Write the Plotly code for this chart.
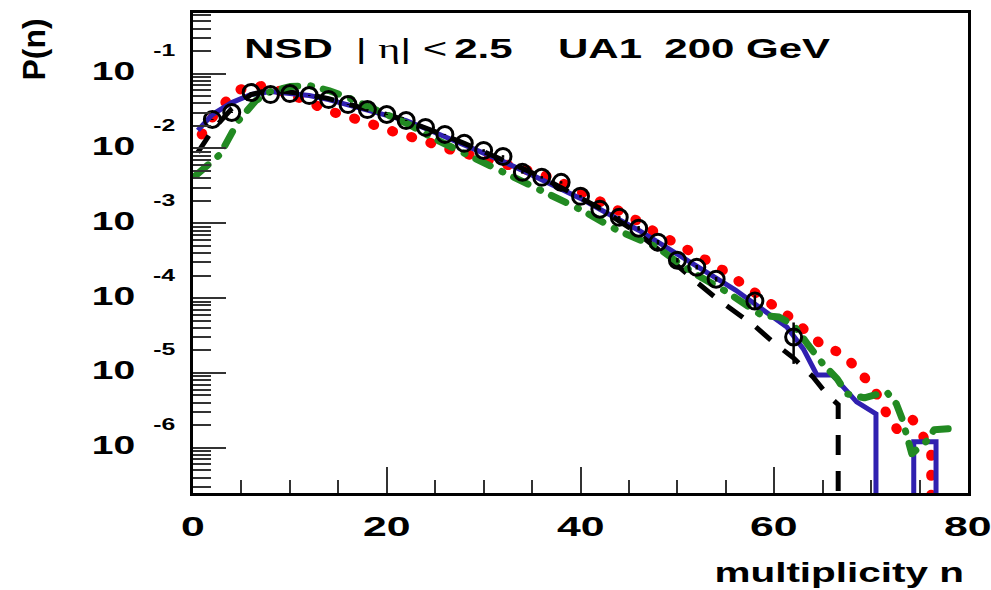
import plotly.graph_objects as go

# ---------------- data ----------------
FLOOR = 1e-9  # zero probability -> drawn down to the bottom of the log frame

# UA1 data (open circles)
data_n = [2, 4, 6, 8, 10, 12, 14, 16, 18, 20, 22, 24, 26, 28, 30, 32, 34, 36, 38, 40,
          42, 44, 46, 48, 50, 52, 54, 58, 62]
data_p = [0.0244, 0.0302, 0.0558, 0.0525, 0.0541, 0.0509, 0.0450, 0.0386, 0.0331, 0.0284,
          0.0236, 0.0191, 0.0154, 0.0117, 0.0094, 0.00782, 0.00479, 0.00411, 0.00352, 0.00229,
          0.00154, 0.00120, 0.000858, 0.000558, 0.000321, 0.000259, 0.000179, 9.12e-5, 3.02e-5]
data_err = [0.00037, 0.00045, 0.00084, 0.00079, 0.00081, 0.00076, 0.00068, 0.00058, 0.0005, 0.00043,
            0.00035, 0.00029, 0.00023, 0.00017, 0.00038, 0.00031, 0.00019, 0.00016, 0.00014, 0.00009,
            0.00006, 0.000048, 0.00006, 0.000039, 0.000022, 0.000018, 0.000013, 0.000018, 0.000017]

# red dotted model
red_n = [0.9, 2, 3.4, 4.8, 7.4, 9.5, 11.7, 13.6, 15.9, 18, 20, 22.4, 24.4, 26.5, 29, 31.7, 33.9,
         36.1, 39.1, 41.7, 43.3, 45.3, 47.2, 49, 51, 52.8, 54.7, 56.5, 58.2, 59.9, 61.6, 63.4,
         64.9, 66.8, 68.3, 69.7, 70.9, 71.6, 72.7, 74.3, 75.3, 76.2, 76.2]
red_p = [0.0154, 0.0259, 0.0423, 0.0612, 0.0692, 0.0558, 0.0437, 0.0331, 0.0275, 0.0222, 0.0179,
         0.0149, 0.0120, 0.0097, 0.00808, 0.00651, 0.00541, 0.00450, 0.00302, 0.00209, 0.00163,
         0.00120, 0.000832, 0.000631, 0.000450, 0.000331, 0.000236, 0.000163, 0.000113, 7.82e-5,
         5.58e-5, 3.52e-5, 2.36e-5, 1.85e-5, 1.24e-5, 7.59e-6, 4.50e-6, 2.84e-6, 1.74e-6, 2.36e-6,
         1.49e-6, 8.32e-7, FLOOR]

# blue solid model
blue_n = [0.5, 2, 4, 6, 8, 10, 12, 14, 16, 18, 20, 22, 24, 26, 28, 30, 32, 34, 36, 38, 40, 42,
          44, 46, 48, 50, 52, 54, 56, 58, 59.2, 61.3, 63, 64.4, 66, 68.5, 70.5, 70.5, 74.4, 74.4,
          76.7, 76.7]
blue_p = [0.0174, 0.0284, 0.0410, 0.0525, 0.0575, 0.0541, 0.0509, 0.0450, 0.0386, 0.0331, 0.0284,
          0.0236, 0.0185, 0.0145, 0.0113, 0.00885, 0.00671, 0.00509, 0.00386, 0.00293, 0.00215,
          0.00154, 0.00113, 0.000807, 0.000558, 0.000386, 0.000275, 0.000191, 0.000128, 8.32e-5,
          6.51e-5, 4.10e-5, 2.09e-5, 9.40e-6, 9.40e-6, 4.10e-6, 2.84e-6, FLOOR, FLOOR, 1.20e-6,
          1.20e-6, FLOOR]

# black dashed model
black_n = [0.5, 2, 4, 6, 8, 10, 12, 14, 16, 18, 20, 22, 24, 26, 28, 30, 32, 34, 36, 38, 40, 42,
           44, 46, 48, 50, 52, 54, 56, 58, 60, 62, 64, 65.4, 66.6, 66.6]
black_p = [0.00885, 0.0174, 0.0341, 0.0525, 0.0612, 0.0575, 0.0525, 0.0464, 0.0398, 0.0341,
           0.0284, 0.0236, 0.0191, 0.0149, 0.0117, 0.00912, 0.00713, 0.00541, 0.00411, 0.00302,
           0.00222, 0.00159, 0.00107, 0.000718, 0.000450, 0.000266, 0.000163, 0.000100, 6.51e-5,
           4.21e-5, 2.50e-5, 1.58e-5, 8.85e-6, 5.25e-6, 3.76e-6, FLOOR]

# green dash-dotted model
green_n = [0.3, 2.8, 4.7, 6.5, 8, 10, 12, 14, 16, 18, 20, 22.3, 24.6, 28.2, 32.2, 36.1, 40.1,
           43.8, 47.9, 50, 52, 55.1, 58.7, 60.5, 62, 63.5, 65, 66.5, 67.5, 69.3, 71.6, 72.6, 73.2,
           74.2, 75.9, 76.5, 78.3]
green_p = [0.00437, 0.00833, 0.0236, 0.0437, 0.0575, 0.0671, 0.0692, 0.0594, 0.0479, 0.0374,
           0.0284, 0.0209, 0.0141, 0.00833, 0.00479, 0.00275, 0.00150, 0.000807, 0.000479,
           0.000303, 0.000204, 0.000121, 5.89e-5, 5.58e-5, 4.37e-5, 2.36e-5, 1.33e-5, 8.32e-6,
           5.25e-6, 4.64e-6, 5.58e-6, 3.87e-6, 2.43e-6, 8.32e-7, 1.28e-6, 1.74e-6, 1.80e-6]

x_ticks = [0, 20, 40, 60, 80]
y_exps = [-1, -2, -3, -4, -5, -6]
y_major = [10.0 ** e for e in y_exps]
y_minor = [k * 10.0 ** e for e in range(-7, 0) for k in range(2, 10)]

# ---------------- figure ----------------
BOLD = "Liberation Sans, Arial, sans-serif"
fig = go.Figure()

fig.add_trace(go.Scatter(x=red_n, y=red_p, mode="lines",
                         line=dict(color="#ff0000", width=10, dash="1px,19px")))
fig.add_trace(go.Scatter(x=blue_n, y=blue_p, mode="lines",
                         line=dict(color="#3020b0", width=5)))
fig.add_trace(go.Scatter(x=black_n, y=black_p, mode="lines",
                         line=dict(color="black", width=5, dash="20px,16px")))
fig.add_trace(go.Scatter(x=green_n, y=green_p, mode="lines",
                         line=dict(color="#228a22", width=7, dash="16px,13px,1px,12px")))
fig.add_trace(go.Scatter(x=data_n, y=data_p, mode="markers",
                         marker=dict(symbol="circle-open", size=16, color="black",
                                     line=dict(width=3, color="black")),
                         error_y=dict(type="data", array=data_err, visible=True,
                                      color="black", thickness=2.5, width=0)))

fig.update_layout(
    width=991, height=590,
    margin=dict(l=193, r=23, t=10, b=97),
    plot_bgcolor="white", paper_bgcolor="white",
    showlegend=False,
    xaxis=dict(range=[0, 80], showline=True, linewidth=3, linecolor="black", mirror=True,
               ticks="inside", ticklen=26, tickwidth=1.5, tickcolor="#333",
               tickmode="array", tickvals=x_ticks, showticklabels=False,
               minor=dict(ticks="inside", ticklen=13, tickwidth=1.5, tickcolor="#333",
                          dtick=5, tick0=0),
               showgrid=False, zeroline=False),
    yaxis=dict(type="log", range=[-6.605, -0.19], showline=True, linewidth=3,
               linecolor="black", mirror=True,
               ticks="inside", ticklen=33, tickwidth=1.5, tickcolor="#333",
               tickmode="array", tickvals=y_major, showticklabels=False,
               minor=dict(ticks="inside", ticklen=18, tickwidth=1.5, tickcolor="#333",
                          tickmode="array", tickvals=y_minor),
               showgrid=False, zeroline=False),
)

ann = []
for v in x_ticks:
    ann.append(dict(x=v, xref="x", y=0, yref="paper", yshift=-33, xanchor="center",
                    yanchor="middle", showarrow=False, text=f"<b>{v}</b>",
                    font=dict(family=BOLD, size=28.5, color="black")))
for e in y_exps:
    ann.append(dict(x=0, xref="paper", xshift=-80, y=e, yref="y", yshift=2.5,
                    xanchor="center", yanchor="middle", showarrow=False, text="<b>10</b>",
                    font=dict(family=BOLD, size=26, color="black")))
    ann.append(dict(x=0, xref="paper", xshift=-28.5, y=e, yref="y", yshift=23.5,
                    xanchor="center", yanchor="middle", showarrow=False, text=f"<b>{e}</b>",
                    font=dict(family=BOLD, size=16.5, color="black")))

ann.append(dict(x=(839 - 193) / 775, xref="paper", y=0, yref="paper", yshift=-79.5,
                xanchor="center", yanchor="middle", showarrow=False,
                text="<b>multiplicity n</b>", font=dict(family=BOLD, size=27, color="black")))
ann.append(dict(x=0, xref="paper", xshift=-160, y=1, yref="paper", yshift=-36.5,
                xanchor="center", yanchor="middle", showarrow=False, textangle=-90,
                text="<b>P(n)</b>", font=dict(family=BOLD, size=32, color="black")))

title_parts = [("<b>NSD</b>", 288.5),
               ("| <span style='font-family:Liberation Serif'>η</span>| &lt;", 401),
               ("<b>2.5</b>", 483.5),
               ("<b>UA1</b>", 600),
               ("<b>200 GeV</b>", 747.5)]
for txt, cx in title_parts:
    ann.append(dict(x=(cx - 193) / 775, xref="paper", y=1, yref="paper", yshift=-35,
                    xanchor="center", yanchor="middle", showarrow=False, text=txt,
                    font=dict(family=BOLD, size=28, color="black")))

fig.update_layout(annotations=ann)

post_js = """
var gd = document.getElementById('{plot_id}');
var traces = gd.querySelectorAll('.scatterlayer .trace');
[0, 3].forEach(function(i){
  if (!traces[i]) return;
  traces[i].querySelectorAll('path.js-line').forEach(function(p){
    p.style.strokeLinecap = 'round'; p.style.strokeLinejoin = 'round';
  });
});
gd.querySelectorAll('text.annotation-text').forEach(function(t){
  if (t.textContent === 'P(n)') return;
  var b = t.getBBox(); var cx = b.x + b.width / 2;
  var old = t.getAttribute('transform') || '';
  t.setAttribute('transform', old + ' translate(' + cx + ' 0) scale(1.5 1) translate(' + (-cx) + ' 0)');
});
"""

fig.write_html("out.html", post_script=post_js)
